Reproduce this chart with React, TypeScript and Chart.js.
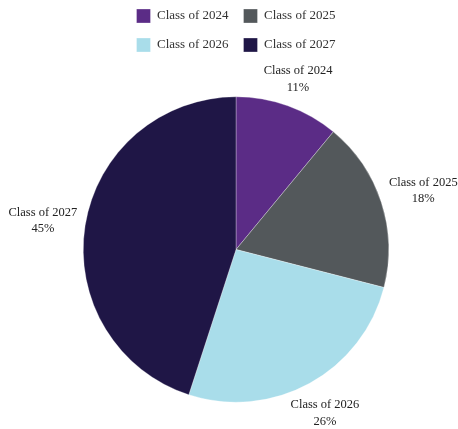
import React, { useEffect, useRef } from "react";
import { Chart, registerables } from "chart.js";

Chart.register(...registerables);

const categories = ["Class of 2024", "Class of 2025", "Class of 2026", "Class of 2027"];
const shares = [11, 18, 26, 45];
const colors = ["#5B2C86", "#53585B", "#A9DDEA", "#1F1646"];

const FONT = "'Liberation Serif', 'DejaVu Serif', serif";

const legendSpacer = {
  id: "legendSpacer",
  beforeLayout(chart: any) {
    const lg = chart.legend;
    if (lg && !lg._spaced) {
      const orig = lg.fit;
      lg.fit = function () {
        orig.call(this);
        this.height += 8;
      };
      lg._spaced = true;
    }
  },
};

const outsideLabels = {
  id: "outsideLabels",
  afterDatasetsDraw(chart: any) {
    const { ctx } = chart;
    const meta = chart.getDatasetMeta(0);
    const data = chart.data.datasets[0].data as number[];
    const total = data.reduce((a, b) => a + b, 0);
    ctx.save();
    ctx.font = `12.5px ${FONT}`;
    ctx.fillStyle = "#222";
    ctx.textAlign = "center";
    ctx.textBaseline = "middle";
    const lineH = 16.5;
    meta.data.forEach((arc: any, i: number) => {
      const p = arc.getProps(["x", "y", "startAngle", "endAngle", "outerRadius"], true);
      const mid = (p.startAngle + p.endAngle) / 2;
      const dx = Math.cos(mid);
      const dy = Math.sin(mid);
      const l1 = chart.data.labels[i] as string;
      const l2 = Math.round((data[i] / total) * 100) + "%";
      const w = Math.max(ctx.measureText(l1).width, ctx.measureText(l2).width);
      const h = lineH * 2 + 9;
      const r0 = p.outerRadius + 8;
      const tx = Math.abs(dx) > 1e-6 ? w / 2 / Math.abs(dx) : Infinity;
      const ty = Math.abs(dy) > 1e-6 ? h / 2 / Math.abs(dy) : Infinity;
      const d = Math.min(tx, ty);
      const cx = p.x + dx * (r0 + d);
      const cy = p.y + dy * (r0 + d) + 2;
      ctx.fillText(l1, cx, cy - lineH / 2);
      ctx.fillText(l2, cx, cy + lineH / 2);
    });
    ctx.restore();
  },
};

export default function App() {
  const ref = useRef<HTMLCanvasElement>(null);
  useEffect(() => {
    if (!ref.current) return;
    const chart = new Chart(ref.current, {
      type: "pie",
      data: {
        labels: categories,
        datasets: [
          {
            data: shares,
            backgroundColor: colors,
            borderColor: "rgba(255,255,255,0.6)",
            borderWidth: 0.5,
          },
        ],
      },
      options: {
        responsive: false,
        animation: false,
        layout: { padding: { left: 83, right: 69, top: -6, bottom: 0 } },
        plugins: {
          legend: {
            position: "top",
            labels: {
              boxWidth: 14,
              boxHeight: 14,
              padding: 15,
              color: "#333",
              font: { family: FONT, size: 13 },
            },
          },
          tooltip: { enabled: false },
        },
      },
      plugins: [legendSpacer, outsideLabels],
    });
    return () => chart.destroy();
  }, []);
  return (
    <div style={{ position: "absolute", left: 0, top: 0, width: 458, height: 429 }}>
      <canvas ref={ref} width={458} height={429} style={{ width: 458, height: 429 }} />
    </div>
  );
}
